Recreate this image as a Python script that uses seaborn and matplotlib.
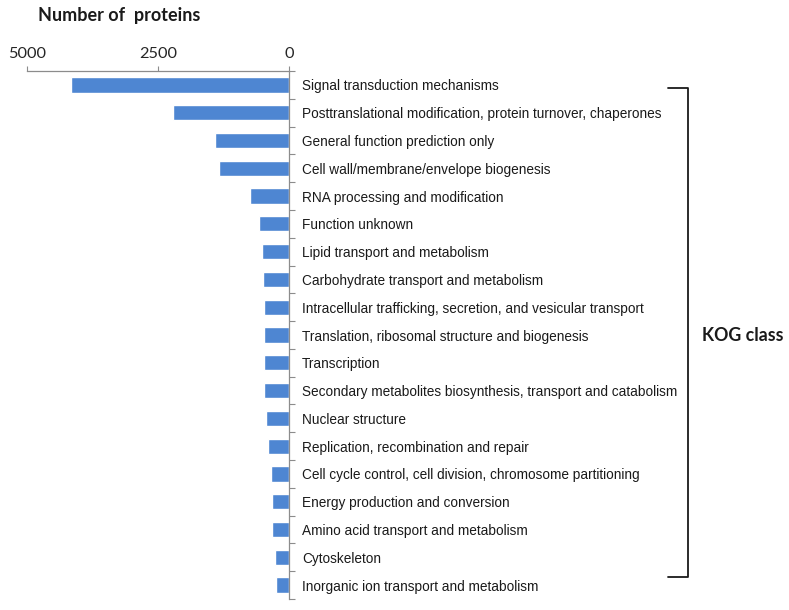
import matplotlib
matplotlib.use("Agg")
import matplotlib.pyplot as plt
from matplotlib.lines import Line2D
import seaborn as sns
import pandas as pd

# KOG classes, top to bottom
kog_classes = [
    "Signal transduction mechanisms",
    "Posttranslational modification, protein turnover, chaperones",
    "General function prediction only",
    "Cell wall/membrane/envelope biogenesis",
    "RNA processing and modification",
    "Function unknown",
    "Lipid transport and metabolism",
    "Carbohydrate transport and metabolism",
    "Intracellular trafficking, secretion, and vesicular transport",
    "Translation, ribosomal structure and biogenesis",
    "Transcription",
    "Secondary metabolites biosynthesis, transport and catabolism",
    "Nuclear structure",
    "Replication, recombination and repair",
    "Cell cycle control, cell division, chromosome partitioning",
    "Energy production and conversion",
    "Amino acid transport and metabolism",
    "Cytoskeleton",
    "Inorganic ion transport and metabolism",
]
protein_counts = [4165, 2205, 1415, 1345, 744, 574, 517, 498, 479, 479,
                  479, 468, 436, 404, 347, 328, 316, 271, 240]
x_ticks = [0, 2500, 5000]

df = pd.DataFrame({"kog": kog_classes, "count": protein_counts})

sns.set_style("white")
plt.rcParams["font.family"] = ["Liberation Sans", "DejaVu Sans"]
calibri_like = ["Lato", "DejaVu Sans"]

W, H = 789, 610
fig = plt.figure(figsize=(W / 100, H / 100), dpi=100)
ax = fig.add_axes([27 / W, 1 - 599 / H, (289 - 27) / W, (599 - 71) / H])

bar_color = "#4E86D2"
sns.barplot(data=df, x="count", y="kog", orient="h", color=bar_color,
            width=0.55, saturation=1, ax=ax)

ax.set_xlim(5000, 0)
ax.set_ylim(len(kog_classes) - 0.5, -0.5)
ax.set_xlabel("")
ax.set_ylabel("")

axis_gray = "#8C8C8C"
for side in ["left", "bottom"]:
    ax.spines[side].set_visible(False)
for side in ["top", "right"]:
    ax.spines[side].set_visible(True)
    ax.spines[side].set_color(axis_gray)
    ax.spines[side].set_linewidth(0.9)

# x axis on top
ax.xaxis.tick_top()
ax.set_xticks(x_ticks)
ax.set_xticklabels([str(v) for v in x_ticks])
ax.tick_params(axis="x", which="major", direction="out", length=3.5, width=0.8,
               color=axis_gray, pad=4, labelsize=11.8, labelcolor="#262626")
for t in ax.get_xticklabels():
    t.set_family(calibri_like)

# y axis on right, ticks between categories
ax.yaxis.tick_right()
ax.set_yticks(range(len(kog_classes)))
ax.set_yticklabels(kog_classes)
ax.set_yticks([i - 0.5 for i in range(len(kog_classes) + 1)], minor=True)
ax.tick_params(axis="y", which="major", length=0, pad=9.5, labelsize=9.8,
               labelcolor="#1a1a1a")
ax.tick_params(axis="y", which="minor", direction="out", length=4.5,
               width=0.8, color=axis_gray)
ax.grid(False)

# title
fig.text(38 / W, 1 - 16 / H, "Number of  proteins", ha="left", va="center",
         fontsize=13, fontweight="bold", family=calibri_like,
         color="#1a1a1a")

# bracket
bx, btop, bbot, btip = 688, 88, 577, 668
bracket = Line2D([btip / W, bx / W, bx / W, btip / W],
                 [1 - btop / H, 1 - btop / H, 1 - bbot / H, 1 - bbot / H],
                 transform=fig.transFigure, color="#1a1a1a", linewidth=1.3)
fig.add_artist(bracket)

fig.text(743 / W, 1 - 335 / H, "KOG class", ha="center", va="center",
         fontsize=12.8, fontweight="bold", family=calibri_like,
         color="#1a1a1a")

fig.savefig("out.png", dpi=100, facecolor="white")
